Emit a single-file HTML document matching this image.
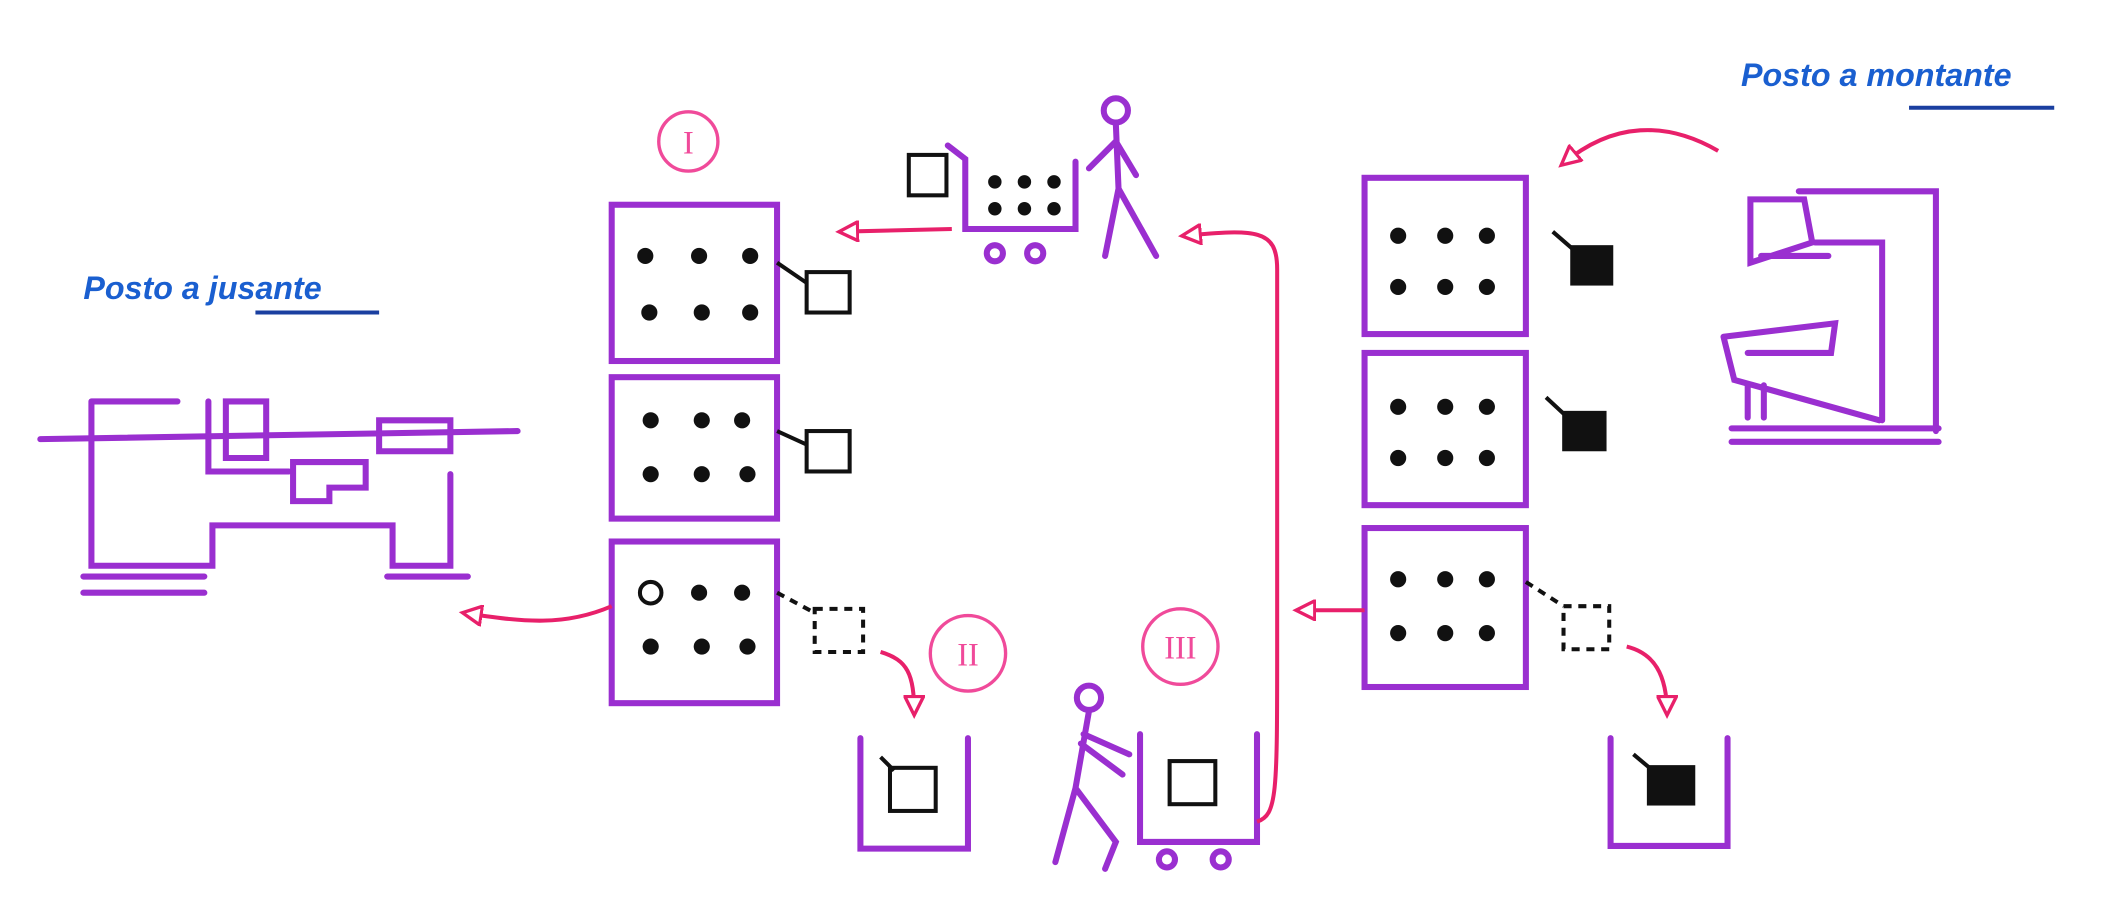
<!DOCTYPE html>
<html><head><meta charset="utf-8"><style>
html,body{margin:0;padding:0;background:#fff;width:2108px;height:916px;overflow:hidden}
svg{display:block}
</style></head><body>
<svg width="2108" height="916" viewBox="0 0 1568 680" preserveAspectRatio="none" xmlns="http://www.w3.org/2000/svg">
<defs>
<marker id="ah" markerWidth="18" markerHeight="16" refX="14" refY="8" orient="auto" markerUnits="userSpaceOnUse"><path d="M1,1 L1,15 L15,8 Z" fill="#fff" stroke="#e8206a" stroke-width="2.5"/></marker>
</defs>
<g font-family="Liberation Sans, sans-serif" fill="#1a5fd0" font-size="24" font-weight="bold">
<text x="62" y="222" font-style="italic">Posto a jusante</text>
<text x="1295" y="64" font-style="italic">Posto a montante</text>
</g>
<path d="M190 232 L282 232" stroke="#1a3fa0" stroke-width="3"/>
<path d="M1420 80 L1528 80" stroke="#1a3fa0" stroke-width="3"/>

<g fill="none" stroke="#9a2fd0" stroke-width="4.5" stroke-linecap="round">
<path d="M30 326 L385 320"/>
<path d="M68 298 L132 298 M68 298 L68 420 L158 420 L158 390 L292 390 L292 420 L335 420 L335 352"/>
<path d="M155 298 L155 350 L215 350 M168 298 L198 298 L198 340 L168 340 Z"/>
<path d="M218 343 L272 343 L272 362 L245 362 L245 372 L218 372 Z"/>
<path d="M282 312 L335 312 L335 335 L282 335 Z"/>
<path d="M62 428 L152 428 M62 440 L152 440 M288 428 L348 428"/>
<rect x="455" y="152" width="123" height="116"/>
<rect x="455" y="280" width="123" height="105"/>
<rect x="455" y="402" width="123" height="120"/>
<rect x="1015" y="132" width="120" height="116"/>
<rect x="1015" y="262" width="120" height="113"/>
<rect x="1015" y="392" width="120" height="118"/>
<path d="M640 548 L640 630 L720 630 L720 548"/>
<path d="M1198 548 L1198 628 L1285 628 L1285 548"/>
<path d="M848 545 L848 625 L935 625 L935 545"/>
<circle cx="868" cy="638" r="6"/><circle cx="908" cy="638" r="6"/>
<path d="M705 108 L718 118 L718 170 L800 170 L800 120"/>
<circle cx="740" cy="188" r="6"/><circle cx="770" cy="188" r="6"/>
<circle cx="830" cy="82" r="9"/>
<path d="M830 92 L832 140 L822 190 M832 140 L860 190 M830 105 L810 125 M830 105 L845 130"/>
<circle cx="810" cy="518" r="9"/>
<path d="M810 528 L800 585 L785 640 M800 585 L830 625 L822 645 M806 545 L840 560 M804 552 L835 575"/>
<path d="M1302 148 L1302 195 L1348 180 L1342 148 Z M1338 142 L1440 142 L1440 320 M1350 180 L1400 180 L1400 312 M1310 190 L1360 190"/>
<path d="M1282 250 L1365 240 L1362 262 L1300 262 M1282 250 L1290 282 L1398 312"/>
<path d="M1300 286 L1300 310 M1312 286 L1312 310"/>
<path d="M1288 318 L1442 318 M1288 328 L1442 328"/>
</g>

<g fill="#111">
<circle cx="480" cy="190" r="6"/><circle cx="520" cy="190" r="6"/><circle cx="558" cy="190" r="6"/>
<circle cx="483" cy="232" r="6"/><circle cx="522" cy="232" r="6"/><circle cx="558" cy="232" r="6"/>
<circle cx="484" cy="312" r="6"/><circle cx="522" cy="312" r="6"/><circle cx="552" cy="312" r="6"/>
<circle cx="484" cy="352" r="6"/><circle cx="522" cy="352" r="6"/><circle cx="556" cy="352" r="6"/>
<circle cx="520" cy="440" r="6"/><circle cx="552" cy="440" r="6"/>
<circle cx="484" cy="480" r="6"/><circle cx="522" cy="480" r="6"/><circle cx="556" cy="480" r="6"/>
<circle cx="1040" cy="175" r="6"/><circle cx="1075" cy="175" r="6"/><circle cx="1106" cy="175" r="6"/>
<circle cx="1040" cy="213" r="6"/><circle cx="1075" cy="213" r="6"/><circle cx="1106" cy="213" r="6"/>
<circle cx="1040" cy="302" r="6"/><circle cx="1075" cy="302" r="6"/><circle cx="1106" cy="302" r="6"/>
<circle cx="1040" cy="340" r="6"/><circle cx="1075" cy="340" r="6"/><circle cx="1106" cy="340" r="6"/>
<circle cx="1040" cy="430" r="6"/><circle cx="1075" cy="430" r="6"/><circle cx="1106" cy="430" r="6"/>
<circle cx="1040" cy="470" r="6"/><circle cx="1075" cy="470" r="6"/><circle cx="1106" cy="470" r="6"/>
<circle cx="740" cy="135" r="5"/><circle cx="762" cy="135" r="5"/><circle cx="784" cy="135" r="5"/>
<circle cx="740" cy="155" r="5"/><circle cx="762" cy="155" r="5"/><circle cx="784" cy="155" r="5"/>
<rect x="1168" y="182" width="32" height="30"/>
<rect x="1162" y="305" width="33" height="30"/>
<rect x="1225" y="568" width="36" height="30"/>
</g>
<g fill="none" stroke="#111" stroke-width="3">
<circle cx="484" cy="440" r="8"/>
<rect x="600" y="202" width="32" height="30"/><path d="M578 195 L600 210"/>
<rect x="600" y="320" width="32" height="30"/><path d="M578 320 L600 330"/>
<rect x="676" y="115" width="28" height="30"/>
<rect x="662" y="570" width="34" height="32"/><path d="M655 562 L665 572"/>
<rect x="870" y="565" width="34" height="32"/>
<path d="M1155 172 L1170 185 M1150 295 L1164 308 M1215 560 L1227 570"/>
<g stroke-dasharray="6,5"><rect x="606" y="452" width="36" height="32"/><path d="M578 440 L606 455"/>
<rect x="1163" y="450" width="34" height="32"/><path d="M1135 432 L1163 450"/></g>
</g>

<g fill="none" stroke="#e8206a" stroke-width="3" marker-end="url(#ah)">
<path d="M708 170 L625 172"/>
<path d="M455 450 C420 465 390 462 345 455"/>
<path d="M655 484 C675 490 680 500 680 530"/>
<path d="M935 610 C950 605 950 590 950 480 L950 200 C950 170 935 170 880 175"/>
<path d="M1278 112 C1240 90 1200 90 1162 122"/>
<path d="M1015 453 L965 453"/>
<path d="M1210 480 C1230 485 1240 500 1240 530"/>
</g>
<g fill="none" stroke="#f04a9a" stroke-width="2.5">
<circle cx="512" cy="105" r="22"/>
<circle cx="720" cy="485" r="28"/>
<circle cx="878" cy="480" r="28"/>
</g>
<g font-family="Liberation Serif, serif" fill="#f04a9a" font-size="24" text-anchor="middle">
<text x="512" y="114">I</text><text x="720" y="494">II</text><text x="878" y="489">III</text>
</g>
</svg>
</body></html>
